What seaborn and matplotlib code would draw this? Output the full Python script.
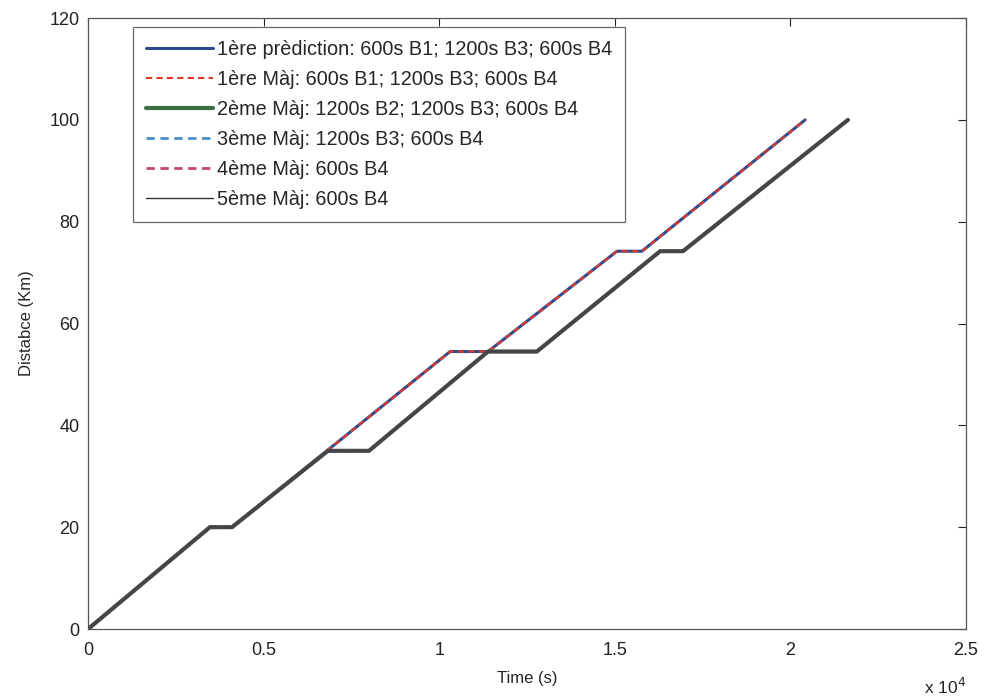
import matplotlib
matplotlib.use("Agg")
import matplotlib.pyplot as plt
import seaborn as sns
from matplotlib.ticker import FuncFormatter

# ---- data (time in s, distance in km) ----
t_pred1 = [0, 3470, 4100, 10310, 11390, 15060, 15770, 20420]
d_pred1 = [0, 20, 20, 54.5, 54.5, 74.2, 74.2, 100]

t_maj1 = [0, 3470, 4100, 10310, 11390, 15060, 15770, 20420]
d_maj1 = [0, 20, 20, 54.5, 54.5, 74.2, 74.2, 100]

t_maj2 = [0, 3470, 4100, 6830, 8000, 11390, 12780, 16290, 16940, 21640]
d_maj2 = [0, 20, 20, 35, 35, 54.5, 54.5, 74.2, 74.2, 100]

t_maj3 = [0, 3470, 4100, 6830, 8000, 11390, 12780, 16290, 16940, 21640]
d_maj3 = [0, 20, 20, 35, 35, 54.5, 54.5, 74.2, 74.2, 100]

t_maj4 = [0, 3470, 4100, 6830, 8000, 11390, 12780, 16290, 16940, 21640]
d_maj4 = [0, 20, 20, 35, 35, 54.5, 54.5, 74.2, 74.2, 100]

t_maj5 = [0, 3470, 4100, 6830, 8000, 11390, 12780, 16290, 16940, 21640]
d_maj5 = [0, 20, 20, 35, 35, 54.5, 54.5, 74.2, 74.2, 100]

labels = [
    "1ère prèdiction: 600s B1; 1200s B3; 600s B4",
    "1ère Màj: 600s B1; 1200s B3; 600s B4",
    "2ème Màj: 1200s B2; 1200s B3; 600s B4",
    "3ème Màj: 1200s B3; 600s B4",
    "4ème Màj: 600s B4",
    "5ème Màj: 600s B4",
]
x_ticks = [0, 5000, 10000, 15000, 20000, 25000]
y_ticks = [0, 20, 40, 60, 80, 100, 120]

sns.set_style("white")
plt.rcParams['font.family'] = ['Liberation Sans', 'DejaVu Sans']

fig = plt.figure(figsize=(9.86, 6.99), dpi=100)
ax = fig.add_axes([0.0893, 0.1001, 0.8904, 0.8741])

series = [
    (t_pred1, d_pred1, dict(color="#2b4a8c", lw=2.2, ls="-")),
    (t_maj1, d_maj1, dict(color="#e0392b", lw=1.5, ls=(0, (3, 2)))),
    (t_maj2, d_maj2, dict(color="#3d6e45", lw=3.0, ls="-")),
    (t_maj3, d_maj3, dict(color="#4a8fc7", lw=2.0, ls=(0, (3, 2)))),
    (t_maj4, d_maj4, dict(color="#c8457a", lw=2.0, ls=(0, (3, 2)))),
    (t_maj5, d_maj5, dict(color="#48424a", lw=2.4, ls="-")),
]
for (t, d, st), lab in zip(series, labels):
    sns.lineplot(x=t, y=d, ax=ax, sort=False, estimator=None, label=lab,
                 color=st["color"], linewidth=st["lw"], linestyle=st["ls"])

ax.set_xlim(0, 25000)
ax.set_ylim(0, 120)
ax.set_xticks(x_ticks)
ax.set_yticks(y_ticks)
ax.xaxis.set_major_formatter(FuncFormatter(lambda v, p: f"{v/1e4:g}"))
ax.tick_params(axis="x", pad=9)
ax.tick_params(direction="in", top=True, right=True, length=6, width=0.8,
               labelsize=13, colors="#222222")
ax.tick_params(axis="y", pad=6)
for s in ax.spines.values():
    s.set_color("#555555")
    s.set_linewidth(0.9)

ax.set_xlabel("Time (s)", fontsize=12, labelpad=9)
ax.set_ylabel("Distabce (Km)", fontsize=12, labelpad=11)
ax.text(1.0, -0.078, "x 10$^4$", transform=ax.transAxes, ha="right", va="top",
        fontsize=12.5)

leg = ax.legend(loc="upper left", bbox_to_anchor=(0.051, 0.985), fontsize=14.3,
                frameon=True, fancybox=False, edgecolor="#444444",
                handlelength=3.4, handletextpad=0.2, labelspacing=0.55,
                borderpad=0.65, borderaxespad=0.0)
leg.get_frame().set_linewidth(0.9)
leg.get_lines()[5].set_linewidth(1.0)
leg.get_lines()[5].set_color("#333333")

fig.savefig("out.png", dpi=100)
